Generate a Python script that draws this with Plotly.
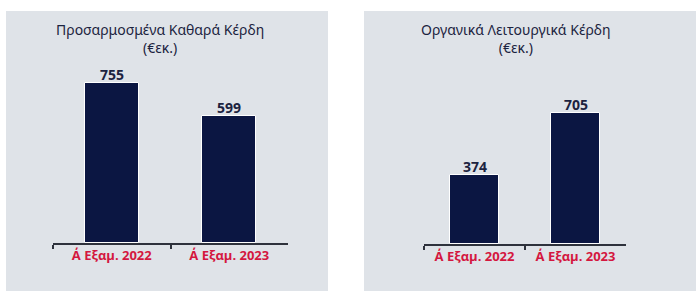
import plotly.graph_objects as go

W, H = 700, 293

categories = ["Α΄ Εξαμ. 2022", "Α΄ Εξαμ. 2023"]
left_values = [755, 599]
right_values = [374, 705]
left_title = "Προσαρμοσμένα Καθαρά Κέρδη<br>(€εκ.)"
right_title = "Οργανικά Λειτουργικά Κέρδη<br>(€εκ.)"

NAVY = "#0b1642"
RED = "#d4173f"
PANEL = "#dfe3e8"
AXIS = "#2e323c"
TITLE = "#1c2340"

def px_x(p):
    return p / W

def px_y(p):
    return (H - p) / H

fig = go.Figure()

fig.add_trace(go.Bar(
    x=categories, y=left_values, xaxis="x", yaxis="y",
    marker=dict(color=NAVY, line=dict(color="white", width=1)),
    width=0.46, hoverinfo="skip",
))
fig.add_trace(go.Bar(
    x=categories, y=right_values, xaxis="x2", yaxis="y2",
    marker=dict(color=NAVY, line=dict(color="white", width=1)),
    width=0.485, hoverinfo="skip",
))

xcommon = dict(
    showline=True, linecolor=AXIS, linewidth=1.5,
    ticks="outside", tickson="boundaries", ticklen=4, tickcolor=AXIS, tickwidth=1.5,
    tickfont=dict(family="Open Sans", size=13, color=RED, weight="bold"),
    showgrid=False, zeroline=False, range=[-0.5, 1.5], fixedrange=True,
)
ycommon = dict(visible=False, showgrid=False, zeroline=False, fixedrange=True)

annotations = []
for xa, ya, vals in (("x", "y", left_values), ("x2", "y2", right_values)):
    for c, v in zip(categories, vals):
        annotations.append(dict(
            text=f"<b>{v}</b>", xref=xa, yref=ya, x=c, y=v,
            xanchor="center", yanchor="bottom", yshift=-3, showarrow=False,
            font=dict(family="Open Sans", size=14, color=TITLE),
        ))

for cx, title in ((160, left_title), (516, right_title)):
    annotations.append(dict(
        text=title, xref="paper", yref="paper", x=px_x(cx), y=px_y(38),
        xanchor="center", yanchor="middle", showarrow=False, align="center",
        font=dict(family="Noto Sans", size=14, color=TITLE),
    ))

fig.update_layout(
    width=W, height=H,
    margin=dict(l=0, r=0, t=0, b=0),
    paper_bgcolor="white", plot_bgcolor="rgba(0,0,0,0)",
    showlegend=False, bargap=0,
    xaxis=dict(domain=[px_x(53), px_x(288)], anchor="y", **xcommon),
    yaxis=dict(domain=[px_y(243), px_y(60)], anchor="x", range=[0, 183 / 0.2119], **ycommon),
    xaxis2=dict(domain=[px_x(424), px_x(626)], anchor="y2", **xcommon),
    yaxis2=dict(domain=[px_y(244), px_y(60)], anchor="x2", range=[0, 184 / 0.1858], **ycommon),
    shapes=[
        dict(type="rect", xref="paper", yref="paper", layer="below",
             x0=px_x(6), x1=px_x(328), y0=px_y(291), y1=px_y(11),
             fillcolor=PANEL, line=dict(width=0)),
        dict(type="rect", xref="paper", yref="paper", layer="below",
             x0=px_x(364), x1=px_x(696), y0=px_y(291), y1=px_y(11),
             fillcolor=PANEL, line=dict(width=0)),
    ],
    annotations=annotations,
)

fig.write_html("out.html")
